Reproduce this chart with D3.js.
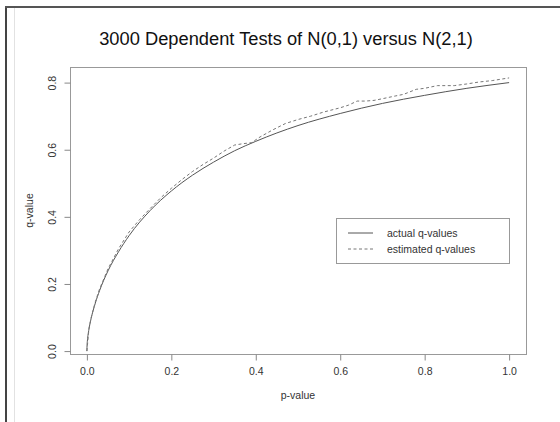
<!DOCTYPE html>
<html>
<head>
<meta charset="utf-8">
<title>3000 Dependent Tests</title>
<script src="https://cdn.jsdelivr.net/npm/d3@7"></script>
<style>
  body { margin: 0; background: #fff; }
  svg { display: block; font-family: "Liberation Sans", Arial, sans-serif; }
</style>
</head>
<body>
<svg width="560" height="422"></svg>
<script>

// actual q-values (smooth curve)
var actualP = [0, 0.0005, 0.001, 0.0025, 0.005, 0.01, 0.02, 0.03, 0.05, 0.075, 0.1, 0.15, 0.2, 0.25, 0.3, 0.35, 0.4, 0.5, 0.6, 0.7, 0.8, 0.9, 1.0];
var actualQ = [0, 0.020, 0.028, 0.046, 0.066, 0.097, 0.143, 0.180, 0.239, 0.296, 0.344, 0.419, 0.477, 0.524, 0.563, 0.597, 0.625, 0.672, 0.708, 0.738, 0.762, 0.783, 0.800];

// estimated q-values (dashed, a bit above and steppy)
var estP = [0, 0.005, 0.01, 0.02, 0.03, 0.05, 0.075, 0.1, 0.125, 0.15, 0.175, 0.2, 0.225, 0.25, 0.275, 0.3, 0.325, 0.35, 0.37, 0.39, 0.41, 0.44, 0.47, 0.5, 0.53, 0.56, 0.6, 0.62, 0.64, 0.66, 0.68, 0.70, 0.73, 0.75, 0.78, 0.80, 0.83, 0.87, 0.90, 0.93, 0.96, 1.0];
var estQ = [0, 0.068, 0.099, 0.147, 0.185, 0.245, 0.305, 0.355, 0.392, 0.425, 0.457, 0.485, 0.511, 0.535, 0.556, 0.575, 0.596, 0.614, 0.618, 0.621, 0.638, 0.659, 0.678, 0.690, 0.700, 0.712, 0.725, 0.733, 0.745, 0.745, 0.747, 0.752, 0.760, 0.765, 0.780, 0.783, 0.791, 0.791, 0.796, 0.802, 0.806, 0.814];

var xTicks = [0, 0.2, 0.4, 0.6, 0.8, 1.0];
var yTicks = [0, 0.2, 0.4, 0.6, 0.8];
var legendLabels = ["actual q-values", "estimated q-values"];

var svg = d3.select("svg"),
    box = {left: 70, right: 526, top: 67, bottom: 354};

// page frame
svg.append("line").attr("x1", 6).attr("x2", 6).attr("y1", 6).attr("y2", 422)
    .attr("stroke", "#444").attr("stroke-width", 2);
svg.append("line").attr("x1", 5).attr("x2", 560).attr("y1", 7).attr("y2", 7)
    .attr("stroke", "#555").attr("stroke-width", 2);
svg.append("line").attr("x1", 14.5).attr("x2", 14.5).attr("y1", 8).attr("y2", 422)
    .attr("stroke", "#e2e2e2").attr("stroke-width", 1);

// R style: 4% padding on each side
var x = d3.scaleLinear().domain([-0.04, 1.04]).range([box.left, box.right]);
var y = d3.scaleLinear().domain([-0.0087, 0.8465]).range([box.bottom, box.top]);

var line = d3.line()
    .x(function(d) { return x(d[0]); })
    .y(function(d) { return y(d[1]); });

svg.append("path")
    .datum(d3.zip(actualP, actualQ))
    .attr("fill", "none")
    .attr("stroke", "#555")
    .attr("stroke-width", 1)
    .attr("d", line.curve(d3.curveMonotoneX));

svg.append("path")
    .datum(d3.zip(estP, estQ))
    .attr("fill", "none")
    .attr("stroke", "#777")
    .attr("stroke-width", 1)
    .attr("stroke-dasharray", "3,2.5")
    .attr("d", line.curve(d3.curveLinear));

// box
svg.append("rect")
    .attr("x", box.left + 0.5).attr("y", box.top + 0.5)
    .attr("width", box.right - box.left).attr("height", box.bottom - box.top)
    .attr("fill", "none").attr("stroke", "#999");

// axes
var xAxis = svg.append("g")
    .attr("transform", "translate(0," + (box.bottom + 0.5) + ")")
    .call(d3.axisBottom(x).tickValues(xTicks).tickFormat(d3.format(".1f")).tickSize(6).tickPadding(7));
var yAxis = svg.append("g")
    .attr("transform", "translate(" + (box.left + 0.5) + ",0)")
    .call(d3.axisLeft(y).tickValues(yTicks).tickFormat(d3.format(".1f")).tickSize(6).tickPadding(7));

[xAxis, yAxis].forEach(function(a) {
  a.select(".domain").remove();
  a.selectAll(".tick line").attr("stroke", "#888");
  a.selectAll(".tick text").attr("fill", "#333").style("font-size", "10.5px")
      .style("font-family", "'Liberation Sans', Arial, sans-serif");
});
yAxis.selectAll(".tick text")
    .attr("transform", "rotate(-90)")
    .attr("x", 0).attr("y", -14.5)
    .attr("dy", "0")
    .attr("text-anchor", "middle");

// titles
svg.append("text")
    .attr("x", 286).attr("y", 45)
    .attr("text-anchor", "middle")
    .attr("fill", "#111")
    .style("font-size", "18.3px")
    .text("3000 Dependent Tests of N(0,1) versus N(2,1)");

svg.append("text")
    .attr("x", (box.left + box.right) / 2).attr("y", 399)
    .attr("text-anchor", "middle")
    .attr("fill", "#333")
    .style("font-size", "10.5px")
    .text("p-value");

svg.append("text")
    .attr("transform", "translate(33," + ((box.top + box.bottom) / 2) + ") rotate(-90)")
    .attr("text-anchor", "middle")
    .attr("fill", "#333")
    .style("font-size", "10.5px")
    .text("q-value");

// legend
var lg = svg.append("g").attr("transform", "translate(336,218)");
lg.append("rect").attr("x", 0.5).attr("y", 0.5).attr("width", 173).attr("height", 45)
    .attr("fill", "#fff").attr("stroke", "#999");
legendLabels.forEach(function(t, i) {
  var yy = 15 + i * 16;
  lg.append("line").attr("x1", 12).attr("x2", 37).attr("y1", yy).attr("y2", yy)
      .attr("stroke", i ? "#777" : "#555")
      .attr("stroke-dasharray", i ? "3,2.5" : null);
  lg.append("text").attr("x", 51).attr("y", yy + 3.5)
      .attr("fill", "#333").style("font-size", "10.5px").text(t);
});

</script>
</body>
</html>
